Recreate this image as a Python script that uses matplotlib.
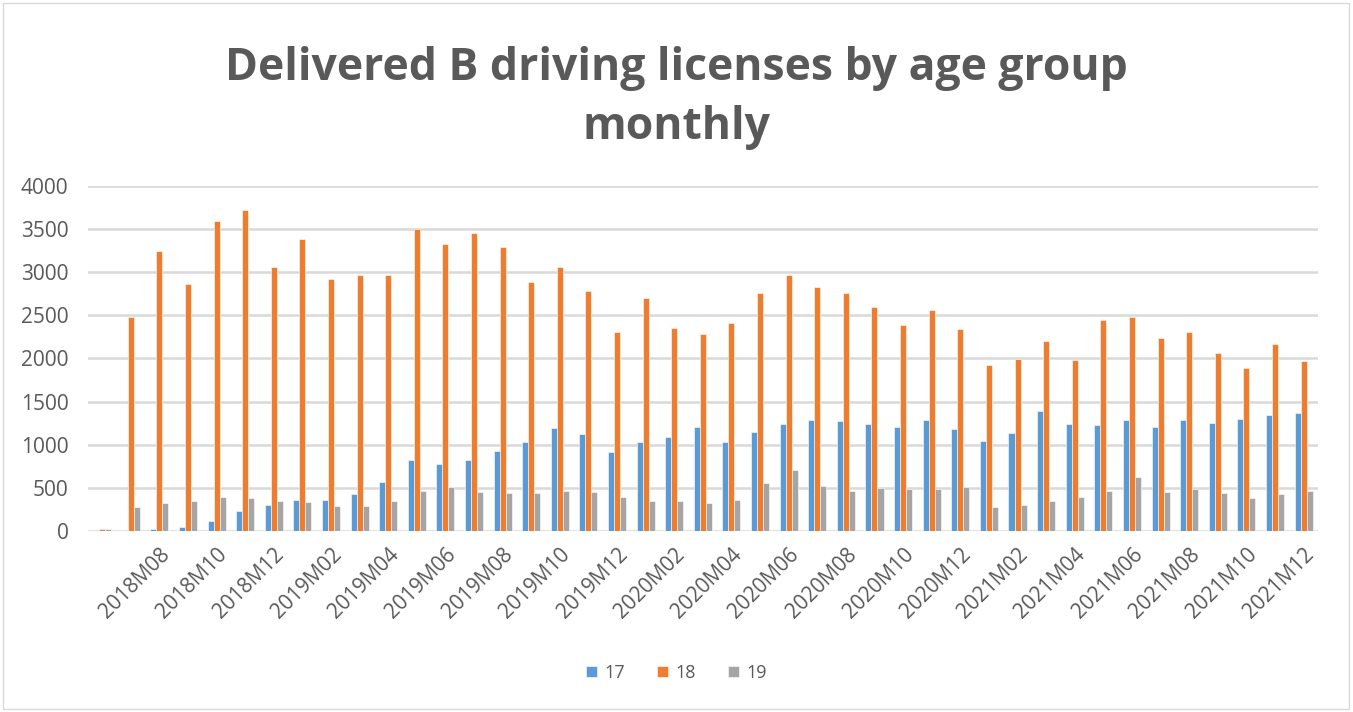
import numpy as np
import matplotlib
matplotlib.use("Agg")
import matplotlib.pyplot as plt
from matplotlib.patches import Rectangle

# months 2018M06 .. 2021M12
months = [f"{y}M{m:02d}" for y in range(2018, 2022) for m in range(1, 13)]
months = months[months.index("2018M06"):]

age17 = [0, 0, 25, 50, 112, 228, 305, 363, 363, 425, 572, 823, 781, 823, 927, 1032,
         1198, 1121, 912, 1032, 1094, 1210, 1032, 1152, 1241, 1283, 1271, 1241, 1210,
         1283, 1182, 1047, 1136, 1387, 1241, 1225, 1283, 1210, 1283, 1256, 1298, 1345, 1372]
age18 = [25, 2481, 3250, 2863, 3590, 3725, 3056, 3385, 2921, 2964, 2964, 3501, 3323,
         3459, 3292, 2890, 3056, 2786, 2311, 2697, 2357, 2280, 2415, 2755, 2964, 2833,
         2755, 2593, 2384, 2566, 2342, 1924, 1998, 2207, 1982, 2446, 2477, 2238, 2311,
         2060, 1894, 2164, 1967]
age19 = [25, 274, 321, 348, 390, 379, 348, 332, 290, 290, 348, 468, 514, 452, 437, 437,
         468, 452, 394, 348, 348, 321, 363, 556, 703, 526, 468, 498, 483, 483, 514, 274,
         305, 348, 394, 468, 630, 452, 483, 437, 379, 425, 468]
series = ["17", "18", "19"]
colors = ["#5B9BD5", "#ED7D31", "#A5A5A5"]

txt = "#595959"
fig = plt.figure(figsize=(13.53, 7.12), dpi=100)
fig.patches.append(Rectangle((0.002, 0.004), 0.995, 0.992, transform=fig.transFigure,
                             fill=False, edgecolor="#d9d9d9", lw=1))
ax = fig.add_axes([0.065, 0.254, 0.909, 0.485])

x = np.arange(len(months))
w = 0.21
for i, (vals, c, name) in enumerate(zip([age17, age18, age19], colors, series)):
    ax.bar(x + (i - 1) * w, vals, w, color=c, edgecolor="white", lw=0.4, label=name, zorder=3)

ax.set_xlim(-0.5, len(months) - 0.5)
ax.set_ylim(0, 4000)
ax.set_yticks(range(0, 4001, 500))
ax.yaxis.grid(True, color="#d9d9d9", lw=1.8, zorder=0)
for s in ax.spines.values():
    s.set_visible(False)
ax.tick_params(axis="both", length=0, colors=txt, labelsize=15)
ax.tick_params(axis="y", pad=14)
ax.tick_params(axis="x", pad=9)
ax.set_xticks(x[2::2])
ax.set_xticklabels(months[2::2], rotation=45, ha="right", rotation_mode="anchor")
for lab in ax.get_xticklabels() + ax.get_yticklabels():
    lab.set_fontfamily("Open Sans")

fig.text(0.5, 0.862, "Delivered B driving licenses by age group\nmonthly", ha="center", va="center",
         fontsize=32, fontweight="bold", color=txt, family="Open Sans", linespacing=1.42)

leg = fig.legend(loc="center", bbox_to_anchor=(0.5, 0.055), ncol=3, frameon=False,
                 handlelength=0.6, handleheight=0.6, handletextpad=0.4, columnspacing=1.8,
                 prop={"family": "Open Sans", "size": 13})
for t in leg.get_texts():
    t.set_color(txt)

fig.savefig("out.png", dpi=100)
